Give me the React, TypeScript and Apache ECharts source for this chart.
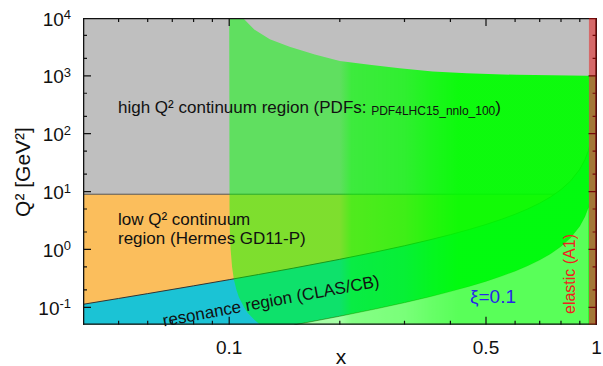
import React, { useEffect, useRef } from "react";
import * as echarts from "echarts";

// Axis extents (log–log)
const X_MIN = 0.04;
const X_MAX = 1;
const Y_MIN = 0.05;
const Y_MAX = 10000;

// Q² that separates the low and high Q² continuum
const Q2_CUT = 9;
// start of the elastic strip
const ELASTIC_X = 0.953;

// Tick positions and labels
const xMajorTicks = [0.1, 0.5, 1];
const xTickLabels = ["0.1", "0.5", "1"];
const xMinorTicks = [0.05, 0.06, 0.07, 0.08, 0.09, 0.2, 0.3, 0.4, 0.6, 0.7, 0.8, 0.9];
const yMajorTicks = [0.1, 1, 10, 100, 1000, 10000];
const yTickExponents = ["-1", "0", "1", "2", "3", "4"];
const yMinorTicks = [0.2, 0.5, 2, 5, 20, 50, 200, 500, 2000, 5000];

type Pt = [number, number];

// upper edge of the resonance region, [x, Q²]
const resonanceUpper: Pt[] = [
  [0.04, 0.1125], [0.05, 0.1421], [0.06, 0.1723], [0.08, 0.2348], [0.1, 0.3],
  [0.12, 0.3682], [0.15, 0.4765], [0.2, 0.675], [0.25, 0.9], [0.3, 1.157],
  [0.35, 1.454], [0.4, 1.8], [0.45, 2.209], [0.5, 2.7], [0.55, 3.3],
  [0.6, 4.05], [0.65, 5.014], [0.7, 6.3], [0.75, 8.1], [0.8, 10.8],
  [0.85, 15.3], [0.9, 24.3], [0.93, 35.87], [0.95, 51.3], [0.97, 87.3],
  [0.99, 267.3], [0.995, 537],
];

// lower edge of the resonance region (pion threshold), [x, Q²]
const resonanceLower: Pt[] = [
  [0.15, 0.0494], [0.2, 0.07], [0.25, 0.0933], [0.3, 0.12], [0.35, 0.1508],
  [0.4, 0.1867], [0.45, 0.2291], [0.5, 0.28], [0.55, 0.3422], [0.6, 0.42],
  [0.65, 0.52], [0.7, 0.6533], [0.75, 0.84], [0.8, 1.12], [0.85, 1.587],
  [0.9, 2.52], [0.93, 3.72], [0.95, 5.32], [0.97, 9.053], [0.99, 27.72],
];

// ξ = 0.1 edge of the PDF region, bottom to top, [x, Q²]
const xiBoundary: Pt[] = [
  [0.1214, 0.05], [0.1172, 0.06], [0.1124, 0.08], [0.1097, 0.1], [0.1062, 0.15],
  [0.1046, 0.2], [0.103, 0.3], [0.1018, 0.5], [0.1009, 1], [0.1004, 2],
  [0.1002, 5], [0.1, 10000],
];

// upper Q² reach of the PDF region, [x, Q²]
const pdfUpper: Pt[] = [
  [0.1, 10000], [0.109, 10000], [0.117, 6300], [0.129, 4300], [0.146, 3200],
  [0.171, 2350], [0.2, 1800], [0.241, 1550], [0.291, 1360], [0.358, 1190],
  [0.443, 1110], [0.607, 1040], [0.94, 1000], [1, 1000],
];

// Q² cut line, drawn up to the resonance edge
const q2CutLine: Pt[] = [[0.04, Q2_CUT], [0.769, Q2_CUT]];

// opacity of the PDF overlay along x
const greenOpacity: Pt[] = [
  [0.1, 0.5], [0.2, 0.5], [0.215, 0.68], [0.3, 0.75], [0.355, 0.85], [0.42, 0.93], [1, 0.93],
];

const FONT = "'Liberation Sans', Arial, Helvetica, sans-serif";
const GRAY = "#bfbfbf";
const ORANGE = "#fbbe5c";
const CYAN = "#1bc3d5";
const INK = "#111111";

function buildOption(): any {
  const P = (api: any, pts: Pt[]) => pts.map((p) => api.coord(p));
  const poly = (api: any, pts: Pt[], fill: any) => ({
    type: "polygon",
    shape: { points: P(api, pts) },
    style: { fill },
  });
  const pline = (api: any, pts: Pt[], stroke: string, lineWidth = 1) => ({
    type: "polyline",
    shape: { points: P(api, pts) },
    style: { stroke, lineWidth, fill: "none" },
  });
  const layer = (name: string, z: number, clip: boolean, build: (params: any, api: any) => any[]) => ({
    name,
    type: "custom",
    coordinateSystem: "cartesian2d",
    z,
    clip,
    silent: true,
    data: [[0.5, 1]],
    renderItem: (params: any, api: any) => ({ type: "group", children: build(params, api) }),
  });

  const greenFill = new echarts.graphic.LinearGradient(
    0, 0, 1, 0,
    greenOpacity.map(([x, a]) => ({
      offset: Math.log10(x) - Math.log10(0.1),
      color: `rgba(0,255,0,${a})`,
    }))
  );

  const regions = layer("regions", 1, true, (_p, api) => [
    poly(api, [[X_MIN, Y_MIN], [X_MAX, Y_MIN], [X_MAX, Y_MAX], [X_MIN, Y_MAX]], GRAY),
    poly(api, [[X_MIN, Y_MIN], [X_MAX, Y_MIN], [X_MAX, Q2_CUT], [X_MIN, Q2_CUT]], ORANGE),
    poly(api, [...resonanceUpper, [X_MAX, Y_MAX], [X_MAX, Y_MIN], [X_MIN, Y_MIN]], CYAN),
    poly(api, [...resonanceLower, [X_MAX, Y_MAX], [X_MAX, Y_MIN], [resonanceLower[0][0], Y_MIN]], "#ffffff"),
  ]);

  const edges = layer("edges", 2, true, (_p, api) => [
    pline(api, q2CutLine, "#555555", 1),
    pline(api, resonanceUpper, "#333333", 1),
    pline(api, resonanceLower, "#333333", 1),
  ]);

  const pdfRegion = layer("pdf", 3, true, (_p, api) => [
    poly(api, [...xiBoundary, ...pdfUpper, [X_MAX, Y_MIN]], greenFill),
  ]);

  const belowThreshold = resonanceLower.filter((p) => p[0] <= ELASTIC_X);
  const veil = layer("veil", 4, true, (_p, api) => [
    poly(
      api,
      [...belowThreshold, [belowThreshold[belowThreshold.length - 1][0], Y_MIN], [belowThreshold[0][0], Y_MIN]],
      "rgba(255,255,255,0.3)"
    ),
  ]);

  const elasticBase = layer("elasticBase", 5, true, (_p, api) => [
    poly(api, [[ELASTIC_X, Y_MIN], [X_MAX, Y_MIN], [X_MAX, 1000], [ELASTIC_X, 1000]], "#64d964"),
  ]);

  // frame, inward ticks, then the translucent elastic strip on top of them
  const top = layer("frameAndElastic", 8, true, (_p, api) => {
    const els: any[] = [];
    const bl = api.coord([X_MIN, Y_MIN]);
    const tr = api.coord([X_MAX, Y_MAX]);
    const L = bl[0], B = bl[1], R = tr[0], T = tr[1];
    const bar = (x0: number, y0: number, x1: number, y1: number) =>
      els.push({
        type: "polygon",
        shape: { points: [[x0, y0], [x1, y0], [x1, y1], [x0, y1]] },
        style: { fill: INK },
      });
    // frame edges (the outer half falls outside the plot clip)
    bar(L - 1.3, T - 1.3, R + 1.3, T + 1.3);
    bar(L - 1.3, B - 1.3, R + 1.3, B + 1.3);
    bar(L - 1.3, T - 1.3, L + 1.3, B + 1.3);
    bar(R - 1.3, T - 1.3, R + 1.3, B + 1.3);
    const xt = (vals: number[], len: number) =>
      vals.forEach((v) => {
        const x = api.coord([v, Y_MIN])[0];
        bar(x - 0.6, B - len, x + 0.6, B);
        bar(x - 0.6, T, x + 0.6, T + len);
      });
    const yt = (vals: number[], len: number) =>
      vals.forEach((v) => {
        const y = api.coord([X_MIN, v])[1];
        bar(L, y - 0.6, L + len, y + 0.6);
        bar(R - len, y - 0.6, R, y + 0.6);
      });
    xt(xMajorTicks, 8);
    xt(xMinorTicks, 4);
    yt(yMajorTicks, 8);
    yt(yMinorTicks, 4);
    els.push(
      poly(api, [[ELASTIC_X, Y_MIN], [X_MAX, Y_MIN], [X_MAX, Y_MAX], [ELASTIC_X, Y_MAX]], "rgba(240,0,0,0.45)")
    );
    return els;
  });

  // tick labels outside the plot area
  const labels = layer("labels", 6, false, (params, api) => {
    const cs = params.coordSys;
    const L = cs.x, B = cs.y + cs.height;
    const els: any[] = [];
    xMajorTicks.forEach((v, i) => {
      const x = api.coord([v, 1])[0];
      els.push({
        type: "text",
        x,
        y: B + 23,
        style: {
          text: xTickLabels[i],
          fill: INK,
          font: `19px ${FONT}`,
          align: "center",
          verticalAlign: "middle",
        },
      });
    });
    yMajorTicks.forEach((v, i) => {
      const y = api.coord([0.5, v])[1];
      els.push({
        type: "text",
        x: L - 12,
        y: y + 1,
        style: {
          text: `{b|10}{s|${yTickExponents[i]}}`,
          align: "right",
          verticalAlign: "middle",
          rich: {
            b: { fontSize: 19, fontFamily: FONT, lineHeight: 22, fill: INK },
            s: { fontSize: 13, fontFamily: FONT, lineHeight: 13, verticalAlign: "top", fill: INK },
          },
        },
      });
    });
    return els;
  });

  const txt = (x: number, y: number, text: string, size: number, extra: any = {}) => ({
    type: "text",
    x,
    y,
    z: 100,
    silent: true,
    ...extra,
    style: {
      text,
      font: `${size}px ${FONT}`,
      fill: INK,
      align: "left",
      verticalAlign: "middle",
      ...(extra.style || {}),
    },
  });

  const graphic = [
    {
      type: "text",
      x: 118,
      y: 107,
      z: 100,
      silent: true,
      style: {
        text: "{a|high Q² continuum region (PDFs: }{s|PDF4LHC15_nnlo_100}{a|)}",
        align: "left",
        verticalAlign: "middle",
        rich: {
          a: { fontSize: 17, fontFamily: FONT, lineHeight: 20, fill: INK },
          s: { fontSize: 12, fontFamily: FONT, lineHeight: 16, verticalAlign: "bottom", fill: INK },
        },
      },
    },
    txt(118, 219, "low Q² continuum", 17),
    txt(118, 238, "region (Hermes GD11-P)", 17),
    txt(271, 301, "resonance region (CLAS/CB)", 17, {
      rotation: (10.5 * Math.PI) / 180,
      style: { align: "center" },
    }),
    txt(493, 296, "ξ=0.1", 19, { style: { align: "center", fill: "#2626e8" } }),
    txt(569, 274, "elastic (A1)", 16, {
      rotation: Math.PI / 2,
      style: { align: "center", fill: "#f02020" },
    }),
    txt(341, 356, "x", 21, { style: { align: "center" } }),
    txt(22, 172, "Q² [GeV²]", 21, {
      rotation: Math.PI / 2,
      style: { align: "center" },
    }),
  ];

  return {
    animation: false,
    backgroundColor: "#ffffff",
    grid: { left: 83, right: 6.4, top: 18, bottom: 41.3, containLabel: false },
    xAxis: { type: "log", logBase: 10, min: X_MIN, max: X_MAX, show: false },
    yAxis: { type: "log", logBase: 10, min: Y_MIN, max: Y_MAX, show: false },
    series: [regions, edges, pdfRegion, veil, elasticBase, labels, top],
    graphic,
  };
}

export default function App() {
  const ref = useRef<HTMLDivElement>(null);
  useEffect(() => {
    document.body.style.margin = "0";
    if (!ref.current) return;
    const chart = echarts.init(ref.current, undefined, { renderer: "svg" });
    chart.setOption(buildOption());
    return () => chart.dispose();
  }, []);
  return <div ref={ref} style={{ width: 603, height: 366 }} />;
}
